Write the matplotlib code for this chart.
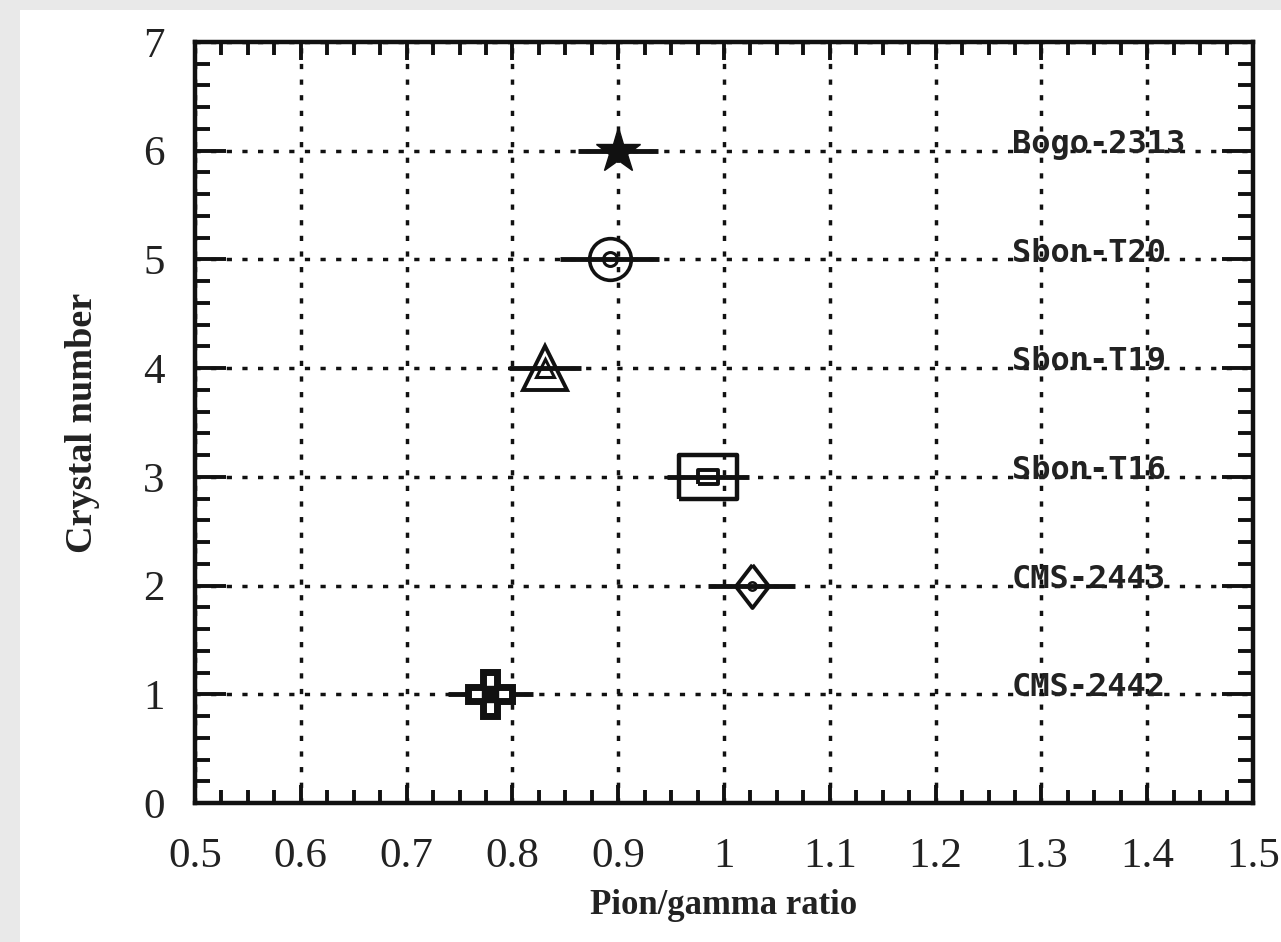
import matplotlib
matplotlib.use("Agg")
import matplotlib.pyplot as plt
from matplotlib.patches import Rectangle
from matplotlib.ticker import MultipleLocator, FuncFormatter

# crystal data
crystals = ["CMS-2442", "CMS-2443", "Sbon-T16", "Sbon-T19", "Sbon-T20", "Bogo-2313"]
crystal_no = [1, 2, 3, 4, 5, 6]
ratio = [0.779, 1.026, 0.985, 0.831, 0.892, 0.900]
ratio_err = [0.040, 0.041, 0.039, 0.034, 0.047, 0.038]

fig = plt.figure(figsize=(12.81, 9.42), dpi=100, facecolor="#e9e9e9")
fig.patches.append(Rectangle((20 / 1281, 0), 1, 1 - 10 / 942, transform=fig.transFigure,
                             facecolor="white", edgecolor="none", zorder=-5))
ax = fig.add_axes([195 / 1281, 1 - 803 / 942, 1058 / 1281, 761 / 942])
ax.set_facecolor("white")

ax.set_xlim(0.5, 1.5)
ax.set_ylim(0, 7)

# error bars
ax.errorbar(ratio, crystal_no, xerr=ratio_err, fmt="none", ecolor="#111111",
            elinewidth=3.5, capsize=0, zorder=3)

# markers, one style per crystal
rect = [(-1.3, -1), (1.3, -1), (1.3, 1), (-1.3, 1), (-1.3, -1)]
inner_rect = [(-1.6, -1), (1.6, -1), (1.6, 1), (-1.6, 1), (-1.6, -1)]
diamond = [(0, 1), (0.77, 0), (0, -1), (-0.77, 0), (0, 1)]
k = "#111111"

# CMS-2442 : plus
ax.plot(ratio[0], crystal_no[0], marker="P", ms=32, mfc="white", mec=k, mew=5, zorder=4)
ax.plot(ratio[0], crystal_no[0], marker="s", ms=11, mfc=k, mec=k, zorder=5)
# CMS-2443 : diamond
ax.plot(ratio[1], crystal_no[1], marker=diamond, ms=31, mfc="none", mec=k, mew=2.8, zorder=4)
ax.plot(ratio[1], crystal_no[1], marker="o", ms=6, mfc="none", mec=k, mew=1.8, zorder=4)
# Sbon-T16 : box
ax.plot(ratio[2], crystal_no[2], marker=rect, ms=42, mfc="none", mec=k, mew=3.2, zorder=4)
ax.plot(ratio[2], crystal_no[2], marker=inner_rect, ms=15, mfc="none", mec=k, mew=2.8, zorder=4)
# Sbon-T19 : triangle
ax.plot(ratio[3], crystal_no[3], marker="^", ms=32, mfc="none", mec=k, mew=2.8, zorder=4)
ax.plot(ratio[3], crystal_no[3], marker="^", ms=13, mfc="none", mec=k, mew=2.2, zorder=4)
# Sbon-T20 : circle
ax.plot(ratio[4], crystal_no[4], marker="o", ms=30, mfc="none", mec=k, mew=2.6, zorder=4)
ax.plot(ratio[4], crystal_no[4], marker="o", ms=10, mfc="none", mec=k, mew=2.2, zorder=4)
# Bogo-2313 : star
ax.plot(ratio[5], crystal_no[5], marker="*", ms=34, mfc=k, mec=k, mew=1, zorder=4)

# crystal names on the right
for name, y in zip(crystals, crystal_no):
    ax.text(1.272, y - 0.02, name, fontsize=23, family="DejaVu Sans Mono",
            fontweight="bold", color="#222222", va="baseline", ha="left", zorder=2)

# ticks and grid
ax.xaxis.set_major_locator(MultipleLocator(0.1))
ax.xaxis.set_minor_locator(MultipleLocator(0.025))
ax.yaxis.set_major_locator(MultipleLocator(1))
ax.yaxis.set_minor_locator(MultipleLocator(0.2))
ax.xaxis.set_major_formatter(FuncFormatter(lambda v, p: "%g" % round(v, 2)))

ax.tick_params(axis="both", which="both", direction="in", top=True, right=True, color=k)
ax.tick_params(axis="x", which="major", length=13, width=2.8, pad=25)
ax.tick_params(axis="x", which="minor", length=9.5, width=2.8)
ax.tick_params(axis="y", which="major", length=22, width=2.8, pad=22)
ax.tick_params(axis="y", which="minor", length=11, width=2.8)
for lab in ax.get_xticklabels() + ax.get_yticklabels():
    lab.set_fontfamily("Liberation Serif")
    lab.set_fontsize(31)
    lab.set_color("#222222")

ax.grid(True, which="major", color=k, linestyle=(0, (1.5, 3)), linewidth=2.5, zorder=1)
ax.set_axisbelow(True)

for sp in ax.spines.values():
    sp.set_linewidth(3.2)
    sp.set_color(k)

ax.set_xlabel("Pion/gamma ratio", fontsize=25, fontweight="bold", family="Liberation Serif",
              color="#222222")
ax.set_ylabel("Crystal number", fontsize=27.5, fontweight="bold", family="Liberation Serif",
              color="#222222")
ax.xaxis.set_label_coords(0.5, -0.113)
ax.yaxis.set_label_coords(-0.09, 0.5)

fig.savefig("out.png", dpi=100, facecolor=fig.get_facecolor())
